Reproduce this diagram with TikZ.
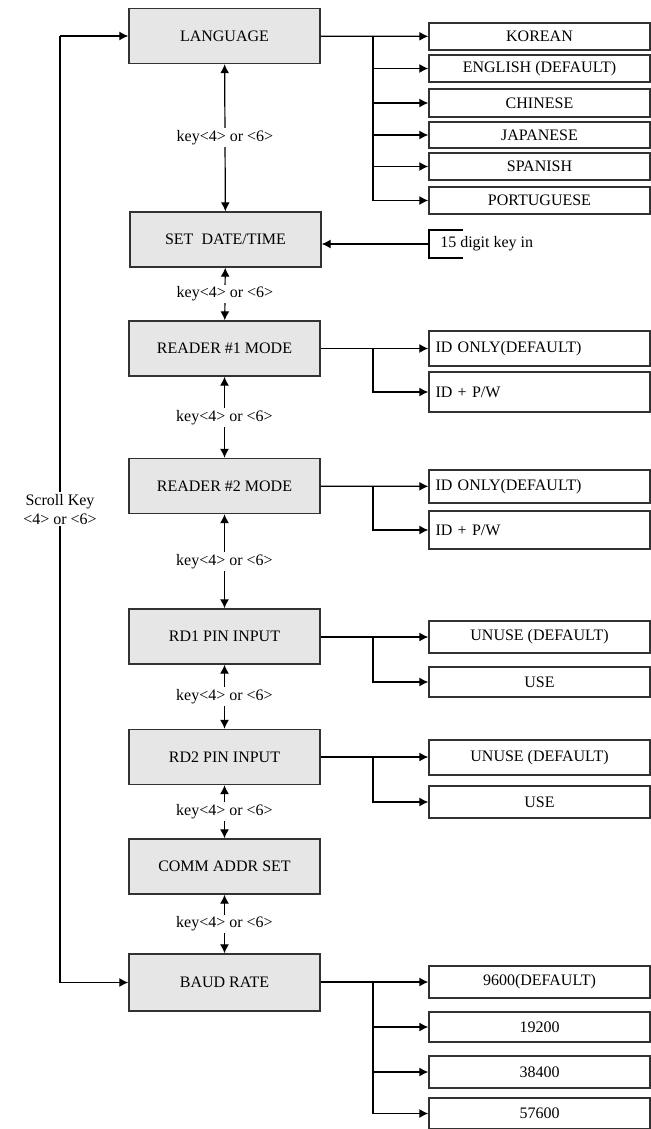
\documentclass[tikz,border=0pt]{standalone}
\usepackage{fontspec}
\setmainfont{Liberation Serif}
\usetikzlibrary{arrows.meta}

\definecolor{boxgray}{RGB}{230,230,230}
\definecolor{linegray}{RGB}{50,50,50}

\tikzset{
  menubox/.style={draw=linegray,fill=boxgray,line width=0.7pt,minimum width=95.5pt,minimum height=27.5pt,inner sep=0pt},
  optbox/.style={draw=linegray,line width=0.7pt,minimum width=110.5pt,minimum height=#1,inner sep=0pt},
  optbox/.default=16pt,
  keylabel/.style={fill=white,inner sep=1pt}
}

\begin{document}
\begin{tikzpicture}[x=0.5pt,y=-0.5pt,>={Latex[length=4.5pt,width=4.5pt]},line width=0.6pt,font=\fontsize{8}{9.5}\selectfont]
  \useasboundingbox (0,0) rectangle (651,1129);
  % menu boxes
  \node[menubox] (lang) at (224.5,36) {LANGUAGE};
  \node[menubox] (date) at (225.5,239.5) {SET\ \ DATE/TIME};
  \node[menubox] (rd1) at (224.5,348.5) {READER \#1 MODE};
  \node[menubox] (rd2) at (224.5,486) {READER \#2 MODE};
  \node[menubox] (pin1) at (224.5,636.5) {RD1 PIN INPUT};
  \node[menubox] (pin2) at (224.5,757) {RD2 PIN INPUT};
  \node[menubox] (comm) at (224.5,866.5) {COMM ADDR SET};
  \node[menubox,minimum height=28.5pt] (baud) at (224.5,982.5) {BAUD RATE};
  % key arrows
  \draw[<->] (lang) -- (date) node[midway,keylabel]{key<4> or <6>};
  \draw[<->] (date) -- (rd1) node[midway,keylabel]{key<4> or <6>};
  \draw[<->] (rd1) -- (rd2) node[midway,keylabel]{key<4> or <6>};
  \draw[<->] (rd2) -- (pin1) node[midway,keylabel]{key<4> or <6>};
  \draw[<->] (pin1) -- (pin2) node[midway,keylabel]{key<4> or <6>};
  \draw[<->] (pin2) -- (comm) node[midway,keylabel]{key<4> or <6>};
  \draw[<->] (comm) -- (baud) node[midway,keylabel]{key<4> or <6>};
  % scroll key
  \coordinate (stop) at (60,36);
  \coordinate (sbot) at (60,982.5);
  \draw[->] (stop) -- (lang);
  \draw[->] (sbot) -- (baud);
  \draw (stop) -- (sbot) node[midway,keylabel,align=center]{Scroll Key\\<4> or <6>};
  % language options
  \node[optbox=13.5pt] (kor) at (539.5,36.5) {KOREAN};
  \node[optbox=13.5pt] (eng) at (539.5,68.5) {ENGLISH (DEFAULT)};
  \node[optbox=14pt] (chn) at (539.5,103) {CHINESE};
  \node[optbox=13pt] (jpn) at (539.5,135) {JAPANESE};
  \node[optbox=13.5pt] (spa) at (539.5,166.5) {SPANISH};
  \node[optbox=13.5pt] (por) at (539.5,200.5) {PORTUGUESE};
  \coordinate (lbr) at (373,36);
  \draw[->] (lang) -- (kor);
  \foreach \n in {eng,chn,jpn,spa,por}
    \draw[->] (lbr) |- (\n);
  % date input
  \coordinate (d1) at (463,230);
  \coordinate (d2) at (429,230);
  \coordinate (d3) at (429,258);
  \coordinate (d4) at (463,258);
  \draw (d1) -- (d2) -- (d3) -- (d4);
  \node[anchor=west] (digit) at (433,244) {15 digit key in};
  \draw[->] (429,244) -- (date.east |- 0,244);
  % reader options
  \node[optbox=17.5pt,text width=104pt,align=left] (id1) at (539.5,348.5) {ID ONLY(DEFAULT)};
  \node[optbox=20pt,text width=104pt,align=left] (pw1) at (539.5,392) {ID + P/W};
  \draw[->] (rd1) -- (id1);
  \draw[->] (373,348.5) |- (pw1);
  \node[optbox=16.5pt,text width=104pt,align=left] (id2) at (539.5,486.5) {ID ONLY(DEFAULT)};
  \node[optbox=19pt,text width=104pt,align=left] (pw2) at (539.5,530) {ID + P/W};
  \draw[->] (rd2) -- (id2);
  \draw[->] (373,486) |- (pw2);
  % pin options
  \node[optbox=16pt] (un1) at (539.5,637) {UNUSE (DEFAULT)};
  \node[optbox=15pt] (use1) at (539.5,682) {USE};
  \draw[->] (pin1.east |- un1) -- (un1);
  \draw[->] (373,637) |- (use1);
  \node[optbox=17.5pt] (un2) at (539.5,757.5) {UNUSE (DEFAULT)};
  \node[optbox=16pt] (use2) at (539.5,802) {USE};
  \draw[->] (pin2) -- (un2.west |- pin2);
  \draw[->] (373,757) |- (use2);
  % baud options
  \node[optbox=16pt] (b96) at (539.5,982) {9600(DEFAULT)};
  \node[optbox=15pt] (b192) at (539.5,1027) {19200};
  \node[optbox=16pt] (b384) at (539.5,1072) {38400};
  \node[optbox=15.5pt] (b576) at (539.5,1113.5) {57600};
  \coordinate (bbr) at (373,982);
  \draw[->] (baud.east |- b96) -- (b96);
  \foreach \n in {b192,b384,b576}
    \draw[->] (bbr) |- (\n);
\end{tikzpicture}
\end{document}
